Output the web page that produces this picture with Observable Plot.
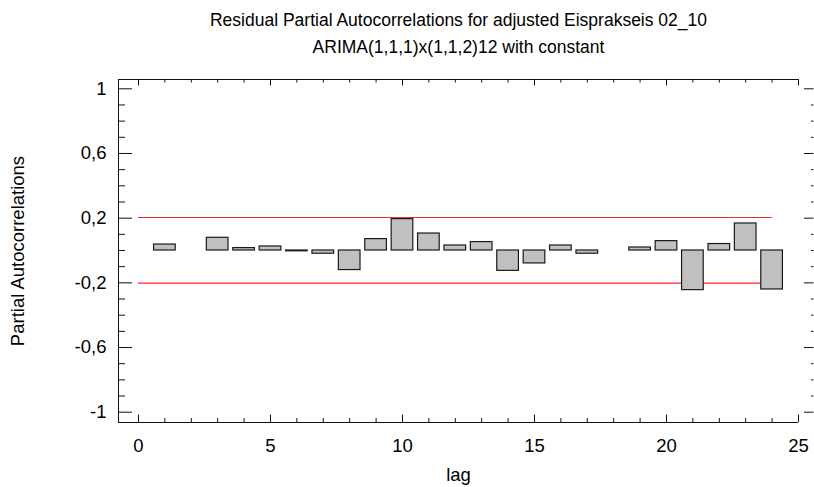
<!DOCTYPE html>
<html>
<head>
<meta charset="utf-8">
<script src="https://cdn.jsdelivr.net/npm/d3@7"></script>
<script src="https://cdn.jsdelivr.net/npm/@observablehq/plot@0.6"></script>
<style>
  html, body { margin: 0; padding: 0; background: #fff; overflow: hidden; }
  #chart svg { display: block; }
</style>
</head>
<body>
<div id="chart"></div>
<script>
// ---- data ----
const titleLines = [
  "Residual Partial Autocorrelations for adjusted Eisprakseis 02_10",
  "ARIMA(1,1,1)x(1,1,2)12 with constant"
];
const xLabel = "lag";
const yLabel = "Partial Autocorrelations";
const lags = [1, 2, 3, 4, 5, 6, 7, 8, 9, 10, 11, 12, 13, 14, 15, 16, 17, 18, 19, 20, 21, 22, 23, 24];
const pacf = [0.037, null, 0.0785, 0.015, 0.025, -0.005, -0.02, -0.121, 0.0705, 0.194, 0.105, 0.031,
              0.052, -0.126, -0.080, 0.031, -0.02, null, 0.0185, 0.058, -0.245, 0.040, 0.167, -0.241];
const upperLimit = 0.204;
const lowerLimit = -0.2016;
const limitStart = 0, limitEnd = 24;
const xTicks = [0, 5, 10, 15, 20, 25];
const yTicks = [-1, -0.6, -0.2, 0.2, 0.6, 1];
const yTickLabels = ["-1", "-0,6", "-0,2", "0,2", "0,6", "1"];

// ---- layout ----
const W = 814, H = 487;
const mL = 118, mR = 16, mT = 79, mB = 65;
const xMin = -0.757, xMax = 25;
const yMin = -1.0637, yMax = 1.0575;
const pxPerX = (W - mL - mR) / (xMax - xMin);
const pxPerY = (H - mT - mB) / (yMax - yMin);

const bars = lags.map((l, i) => ({lag: l, v: pacf[i]})).filter(d => d.v != null);

const yMinor = d3.range(-10, 11).map(i => i / 10).filter(v => !yTicks.some(t => Math.abs(t - v) < 1e-9));
const xMinor = d3.range(0, 26).filter(v => !xTicks.includes(v));

const xRightAxis = (818 - (mL + (0 - xMin) * pxPerX)) / pxPerX; // right axis just beyond view
const xVisibleEdge = xMin + (W - 0.5 - mL) / pxPerX;
const yLabelX = xMin - 100 / pxPerX;
const yMid = (yMin + yMax) / 2;

const tickColor = "#111";
const font = "'Liberation Sans', Arial, Helvetica, sans-serif";
const fsTitle = 17.5, fsTick = 18.5, fsLabel = 18.5;

const chart = Plot.plot({
  width: W, height: H,
  marginLeft: mL, marginRight: mR, marginTop: mT, marginBottom: mB,
  style: {fontFamily: font, fontSize: fsTick + "px", color: "#000", background: "#fff"},
  x: {domain: [xMin, xMax], axis: null},
  y: {domain: [yMin, yMax], axis: null},
  marks: [
    // confidence limits
    Plot.ruleY([upperLimit], {x1: limitStart, x2: limitEnd, stroke: "#e8302a", strokeWidth: 1.1}),
    Plot.ruleY([lowerLimit], {x1: limitStart, x2: limitEnd, stroke: "#ff2a2a", strokeWidth: 1.4}),
    // bars
    Plot.rectY(bars, {x1: d => d.lag - 0.41, x2: d => d.lag + 0.41, y1: 0, y2: "v",
      fill: "#c0c0c0", stroke: "#1a1a1a", strokeWidth: 1.2}),
    // frame lines
    Plot.ruleX([xMin], {y1: yMin, y2: yMax, stroke: tickColor, strokeWidth: 1}),
    Plot.ruleY([yMin, yMax], {x1: xMin, x2: xMax, stroke: tickColor, strokeWidth: 1}),
    // left y ticks (inward)
    Plot.ruleY(yTicks, {x1: xMin, x2: xMin + 14 / pxPerX, stroke: tickColor}),
    Plot.ruleY(yMinor, {x1: xMin, x2: xMin + 7 / pxPerX, stroke: tickColor}),
    // right y ticks (axis sits just past the visible edge)
    Plot.ruleY(yTicks, {x1: xRightAxis - 14 / pxPerX, x2: xVisibleEdge, stroke: tickColor}),
    Plot.ruleY(yMinor, {x1: xRightAxis - 7 / pxPerX, x2: xVisibleEdge, stroke: tickColor}),
    // bottom x ticks (inward)
    Plot.ruleX(xTicks, {y1: yMin, y2: yMin + 7.5 / pxPerY, stroke: tickColor}),
    Plot.ruleX(xMinor, {y1: yMin, y2: yMin + 4 / pxPerY, stroke: tickColor}),
    // top x ticks (inward)
    Plot.ruleX(xTicks, {y1: yMax, y2: yMax - 6.5 / pxPerY, stroke: tickColor}),
    Plot.ruleX(xMinor, {y1: yMax, y2: yMax - 3.5 / pxPerY, stroke: tickColor}),
    // tick labels
    Plot.axisX(xTicks, {anchor: "bottom", tickSize: 0, tickPadding: 16, fontSize: fsTick, tickFormat: d => String(d), label: null}),
    Plot.axisY(yTicks, {anchor: "left", tickSize: 0, tickPadding: 12, fontSize: fsTick,
      tickFormat: d => yTickLabels[yTicks.indexOf(d)], label: null}),
    // axis titles
    Plot.text([xLabel], {frameAnchor: "bottom", dy: 53, fontSize: fsLabel, lineAnchor: "middle"}),
    Plot.text([yLabel], {x: () => yLabelX, y: () => yMid, rotate: -90, fontSize: fsLabel, lineAnchor: "middle"}),
    // titles
    Plot.text([titleLines[0]], {frameAnchor: "top", dy: -59, fontSize: fsTitle, lineAnchor: "middle"}),
    Plot.text([titleLines[1]], {frameAnchor: "top", dy: -32, fontSize: fsTitle, lineAnchor: "middle"})
  ]
});
document.getElementById("chart").append(chart);
</script>
</body>
</html>
